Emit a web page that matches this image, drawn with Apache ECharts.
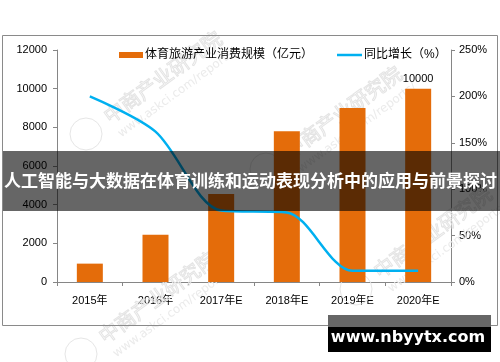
<!DOCTYPE html>
<html>
<head>
<meta charset="utf-8">
<script src="https://cdn.jsdelivr.net/npm/echarts@6/dist/echarts.min.js"></script>
<style>html,body{margin:0;padding:0;background:#fff;}#c{width:500px;height:362px;}</style>
</head>
<body>
<div id="c"></div>
<script>
var categories = ['2015年', '2016年', '2017年E', '2018年E', '2019年E', '2020年E'];
var scaleValues = [950, 2450, 4550, 7800, 9000, 10000];
var growthValues = [200, 162, 77, 75, 12, 12];
var leftTicks = { min: 0, max: 12000, interval: 2000 };
var rightTicks = { min: 0, max: 250, interval: 50 };
var seriesNames = ['体育旅游产业消费规模（亿元）', '同比增长（%）'];
var bannerTitle = '人工智能与大数据在体育训练和运动表现分析中的应用与前景探讨';
var siteText = 'www.nbyytx.com';

var FONT = '"Liberation Sans", "Noto Sans CJK SC", sans-serif';
var chart = echarts.init(document.getElementById('c'), null, { renderer: 'canvas' });

var barData = scaleValues.map(function (v, i) {
  if (i === scaleValues.length - 1) {
    return { value: v, label: { show: true, position: 'top', distance: 4, color: '#000', fontSize: 11, fontFamily: FONT } };
  }
  return v;
});

var wm = [];
function watermark(x, y) {
  wm.push({
    type: 'text', x: x, y: y, rotation: Math.PI * 0.2, z: 1, silent: true,
    style: { text: '中商产业研究院', font: '20px "Noto Sans CJK SC"', fill: 'rgba(0,0,0,0)', stroke: '#e4e4e4', lineWidth: 1 }
  });
  wm.push({
    type: 'text', x: x + 16, y: y + 20, rotation: Math.PI * 0.2, z: 1, silent: true,
    style: { text: 'www.askci.com/reports/', font: '12px "DejaVu Sans"', fill: '#ebebeb' }
  });
  wm.push({
    type: 'circle', shape: { cx: x - 14, cy: y + 24, r: 16 }, z: 1, silent: true,
    style: { fill: 'none', stroke: '#e6e6e6', lineWidth: 1 }
  });
}
watermark(100, 110);
watermark(280, 145);
watermark(370, 265);
watermark(95, 330);

var legendText = { fontSize: 12, color: '#000', fontFamily: FONT, padding: [0, 0, 0, -3] };

chart.setOption({
  animation: false,
  backgroundColor: '#fff',
  textStyle: { fontFamily: FONT },
  grid: { left: 57, top: 50, width: 394, height: 232, containLabel: false },
  legend: [
    {
      top: 44, left: 114, itemWidth: 24, itemHeight: 6,
      textStyle: legendText,
      data: [{ name: seriesNames[0], icon: 'rect' }]
    },
    {
      top: 44, left: 332, itemWidth: 25, itemHeight: 2.5,
      textStyle: legendText,
      data: [{ name: seriesNames[1], icon: 'rect' }]
    }
  ],
  xAxis: {
    type: 'category',
    data: categories,
    axisLine: { lineStyle: { color: '#868686' } },
    axisTick: { show: true, length: 4, lineStyle: { color: '#868686' } },
    axisLabel: { color: '#000', fontSize: 11, margin: 13, fontFamily: FONT }
  },
  yAxis: [
    {
      type: 'value', min: leftTicks.min, max: leftTicks.max, interval: leftTicks.interval,
      axisLine: { show: true, lineStyle: { color: '#868686' } },
      axisTick: { show: true, length: 4, lineStyle: { color: '#868686' } },
      splitLine: { show: false },
      axisLabel: { color: '#000', fontSize: 11, margin: 10, fontFamily: FONT, formatter: function (v) { return String(v); } }
    },
    {
      type: 'value', min: rightTicks.min, max: rightTicks.max, interval: rightTicks.interval,
      position: 'right',
      axisLine: { show: true, lineStyle: { color: '#868686' } },
      axisTick: { show: true, length: 4, lineStyle: { color: '#868686' } },
      splitLine: { show: false },
      axisLabel: { color: '#000', fontSize: 11, margin: 8, formatter: '{value}%', fontFamily: FONT }
    }
  ],
  series: [
    {
      name: seriesNames[0], type: 'bar', data: barData, barWidth: 26,
      itemStyle: { color: '#E46C0A' }, z: 2
    },
    {
      name: seriesNames[1], type: 'line', yAxisIndex: 1, data: growthValues,
      smooth: 0.3, showSymbol: false, symbol: 'none',
      lineStyle: { color: '#00B0F0', width: 2.5 }, itemStyle: { color: '#00B0F0' }, z: 3
    }
  ],
  graphic: wm.concat([
    {
      type: 'rect', shape: { x: 2.5, y: 35.5, width: 495, height: 290 }, z: 1, silent: true,
      style: { fill: 'none', stroke: '#8a8a8a', lineWidth: 1 }
    },
    {
      type: 'rect', shape: { x: 3, y: 151, width: 497, height: 60 }, z: 100, silent: true,
      style: { fill: 'rgba(0,0,0,0.6)' }
    },
    {
      type: 'text', x: 4, y: 181, z: 101, silent: true,
      style: { text: bannerTitle, font: 'bold 17px "Noto Sans CJK SC"', fill: '#fff', verticalAlign: 'middle', textAlign: 'left' }
    },
    {
      type: 'rect', shape: { x: 328, y: 315, width: 163, height: 12 }, z: 100, silent: true,
      style: { fill: '#666' }
    },
    {
      type: 'rect', shape: { x: 328, y: 327, width: 163, height: 25 }, z: 100, silent: true,
      style: { fill: '#000' }
    },
    {
      type: 'text', x: 408, y: 338, z: 101, silent: true,
      style: { text: siteText, font: 'bold 16px "DejaVu Sans"', fill: '#fff', verticalAlign: 'middle', textAlign: 'center' }
    }
  ])
});
</script>
</body>
</html>
